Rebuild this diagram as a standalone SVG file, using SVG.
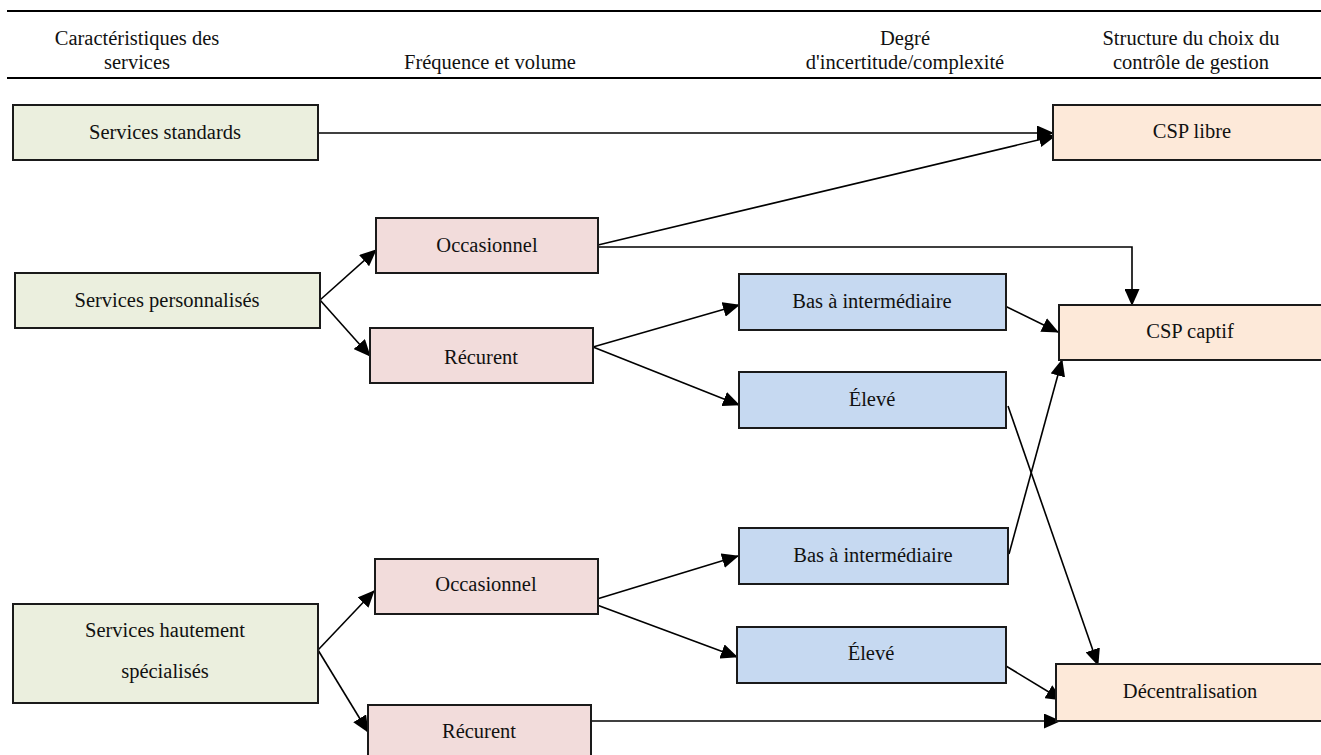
<svg xmlns="http://www.w3.org/2000/svg" width="1321" height="755" viewBox="0 0 1321 755">
  <style>
    text { font-family: "Liberation Serif", "Times New Roman", serif; font-size: 20.5px; fill: #111; text-anchor: middle; }
    .box { stroke: #1a1a1a; stroke-width: 2; }
    .svc { fill: #ebefde; }
    .freq { fill: #f2dcdb; }
    .deg { fill: #c6d9f1; }
    .out { fill: #fde9d9; }
    .rule { stroke: #000; stroke-width: 2.2; }
    .link { fill: none; stroke: #000; stroke-width: 1.6; marker-end: url(#arrow); }
  </style>
  <defs>
    <marker id="arrow" markerUnits="userSpaceOnUse" markerWidth="17" markerHeight="15" viewBox="0 0 17 15" refX="16" refY="7.5" orient="auto">
      <path d="M0,0 L17,7.5 L0,15 Z" fill="#000"/>
    </marker>
  </defs>

  <!-- header band -->
  <g id="header">
    <line class="rule" x1="7" y1="11" x2="1321" y2="11"/>
    <line class="rule" x1="7" y1="78" x2="1321" y2="78"/>
    <text x="137" y="45">Caractéristiques des</text>
    <text x="137" y="69">services</text>
    <text x="490" y="69">Fréquence et volume</text>
    <text x="905" y="45">Degré</text>
    <text x="905" y="69">d'incertitude/complexité</text>
    <text x="1191" y="45">Structure du choix du</text>
    <text x="1191" y="69">contrôle de gestion</text>
  </g>

  <!-- connectors -->
  <g id="connectors">
    <line class="link" x1="318" y1="133" x2="1053" y2="133"/>
    <line class="link" x1="320" y1="300" x2="376" y2="250"/>
    <line class="link" x1="320" y1="300" x2="370" y2="356"/>
    <line class="link" x1="598" y1="245" x2="1055" y2="136"/>
    <polyline class="link" points="598,247 1132,247 1132,305"/>
    <line class="link" x1="593" y1="347" x2="739" y2="305"/>
    <line class="link" x1="593" y1="347" x2="739" y2="405"/>
    <line class="link" x1="1005" y1="306" x2="1058" y2="332"/>
    <line class="link" x1="1008" y1="406" x2="1098" y2="665"/>
    <line class="link" x1="1009" y1="554" x2="1062" y2="360"/>
    <line class="link" x1="597" y1="599" x2="738" y2="556"/>
    <line class="link" x1="597" y1="605" x2="737" y2="657"/>
    <line class="link" x1="1006" y1="666" x2="1062" y2="700"/>
    <line class="link" x1="318" y1="650" x2="374" y2="591"/>
    <line class="link" x1="318" y1="650" x2="368" y2="732"/>
    <line class="link" x1="591" y1="721" x2="1060" y2="721"/>
  </g>

  <!-- column 1: service characteristics -->
  <g id="services-standards">
    <rect class="box svc" x="13" y="105" width="305" height="55"/>
    <text x="165" y="139">Services standards</text>
  </g>
  <g id="services-personnalises">
    <rect class="box svc" x="15" y="273" width="305" height="55"/>
    <text x="167" y="307">Services personnalisés</text>
  </g>
  <g id="services-hautement-specialises">
    <rect class="box svc" x="13" y="604" width="305" height="99"/>
    <text x="165" y="637">Services hautement</text>
    <text x="165" y="678">spécialisés</text>
  </g>

  <!-- column 2: frequency and volume -->
  <g id="occasionnel-1">
    <rect class="box freq" x="376" y="218" width="222" height="55"/>
    <text x="487" y="252">Occasionnel</text>
  </g>
  <g id="recurent-1">
    <rect class="box freq" x="370" y="328" width="223" height="55"/>
    <text x="481" y="364">Récurent</text>
  </g>
  <g id="occasionnel-2">
    <rect class="box freq" x="375" y="559" width="223" height="55"/>
    <text x="486" y="591">Occasionnel</text>
  </g>
  <g id="recurent-2">
    <rect class="box freq" x="368" y="705" width="223" height="55"/>
    <text x="479" y="738">Récurent</text>
  </g>

  <!-- column 3: uncertainty / complexity -->
  <g id="bas-intermediaire-1">
    <rect class="box deg" x="739" y="274" width="267" height="56"/>
    <text x="872" y="308">Bas à intermédiaire</text>
  </g>
  <g id="eleve-1">
    <rect class="box deg" x="739" y="372" width="267" height="56"/>
    <text x="872" y="406">Élevé</text>
  </g>
  <g id="bas-intermediaire-2">
    <rect class="box deg" x="739" y="528" width="269" height="56"/>
    <text x="873" y="562">Bas à intermédiaire</text>
  </g>
  <g id="eleve-2">
    <rect class="box deg" x="737" y="627" width="269" height="56"/>
    <text x="871" y="660">Élevé</text>
  </g>

  <!-- column 4: management control structure -->
  <g id="csp-libre">
    <rect class="box out" x="1053" y="105" width="275" height="55"/>
    <text x="1192" y="138">CSP libre</text>
  </g>
  <g id="csp-captif">
    <rect class="box out" x="1059" y="305" width="270" height="55"/>
    <text x="1190" y="338">CSP captif</text>
  </g>
  <g id="decentralisation">
    <rect class="box out" x="1056" y="664" width="272" height="57"/>
    <text x="1190" y="698">Décentralisation</text>
  </g>
</svg>
